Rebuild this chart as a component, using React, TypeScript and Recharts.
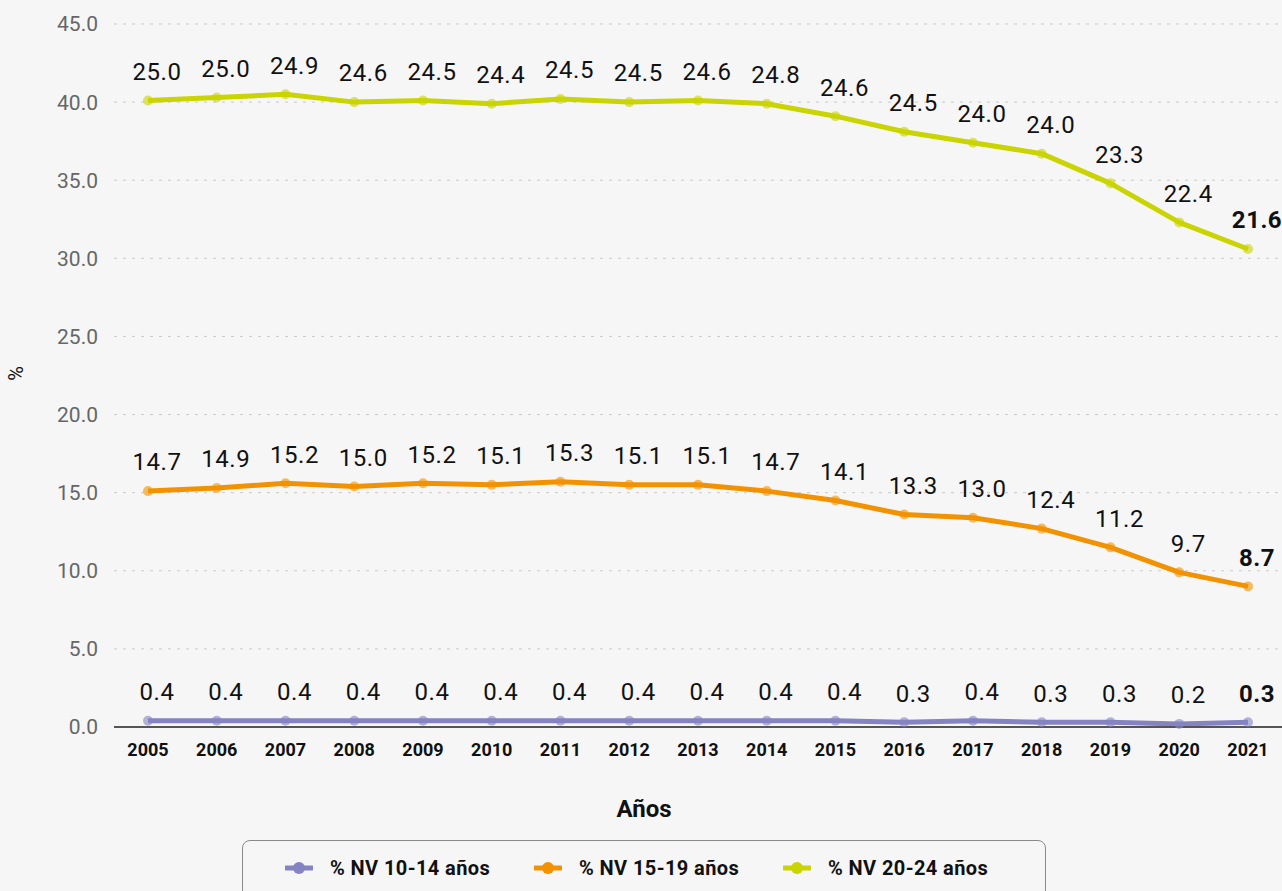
import React from "react";
import {
  AreaChart,
  Area,
  XAxis,
  YAxis,
  CartesianGrid,
  Legend,
  LabelList,
  Label,
} from "recharts";

const years = [
  "2005", "2006", "2007", "2008", "2009", "2010", "2011", "2012", "2013",
  "2014", "2015", "2016", "2017", "2018", "2019", "2020", "2021",
];
const nv10 = [0.4, 0.4, 0.4, 0.4, 0.4, 0.4, 0.4, 0.4, 0.4, 0.4, 0.4, 0.3, 0.4, 0.3, 0.3, 0.2, 0.3];
const nv15 = [14.7, 14.9, 15.2, 15.0, 15.2, 15.1, 15.3, 15.1, 15.1, 14.7, 14.1, 13.3, 13.0, 12.4, 11.2, 9.7, 8.7];
const nv20 = [25.0, 25.0, 24.9, 24.6, 24.5, 24.4, 24.5, 24.5, 24.6, 24.8, 24.6, 24.5, 24.0, 24.0, 23.3, 22.4, 21.6];
const yTicks = [0, 5, 10, 15, 20, 25, 30, 35, 40, 45];

const series = [
  { key: "nv10", name: "% NV 10-14 años", color: "#8683c2", values: nv10 },
  { key: "nv15", name: "% NV 15-19 años", color: "#f39200", values: nv15 },
  { key: "nv20", name: "% NV 20-24 años", color: "#c9d400", values: nv20 },
];

const data = years.map((year, i) => ({
  year,
  nv10: nv10[i],
  nv15: nv15[i],
  nv20: nv20[i],
}));

// labels show the raw value of each band, not the stacked height
function valueLabel(values: number[]) {
  return (props: any) => {
    const { x, y, index } = props;
    const last = index === values.length - 1;
    return (
      <text
        x={x + 9}
        y={y - 27}
        textAnchor="middle"
        dominantBaseline="middle"
        fontSize={24}
        letterSpacing={0.5}
        fontWeight={last ? 700 : 400}
        fill="#111"
      >
        {values[index].toFixed(1)}
      </text>
    );
  };
}

const renderLegend = (props: any) => {
  const payload = props.payload || [];
  return (
    <div
      style={{
        border: "1px solid #8a8a8a",
        borderRadius: 8,
        height: 58,
        boxSizing: "border-box",
        display: "flex",
        alignItems: "center",
        paddingLeft: 42,
        paddingBottom: 2,
      }}
    >
      {payload.map((entry: any) => {
        const s = series.find((d) => d.key === entry.dataKey);
        const color = s ? s.color : entry.color;
        return (
          <div
            key={entry.value}
            style={{ display: "flex", alignItems: "center", width: 249 }}
          >
            <svg width={28} height={14} style={{ marginRight: 17 }}>
              <line x1={1} y1={7} x2={27} y2={7} stroke={color} strokeWidth={5} strokeLinecap="round" />
              <circle cx={14} cy={7} r={6} fill={color} />
            </svg>
            <span style={{ fontSize: 20, fontWeight: 700, color: "#111", letterSpacing: 0.4 }}>
              {entry.value}
            </span>
          </div>
        );
      })}
    </div>
  );
};

export default function App() {
  return (
    <div
      style={{
        width: 1282,
        height: 891,
        overflow: "hidden",
        background: "#f6f6f6",
        fontFamily: "Roboto, sans-serif",
      }}
    >
      <style>{"body{margin:0;background:#f6f6f6}"}</style>
      <AreaChart
        width={1282}
        height={891}
        data={data}
        margin={{ top: 24, right: 0, left: 0, bottom: 64 }}
      >
        <CartesianGrid
          vertical={false}
          stroke="#c9c9c9"
          strokeDasharray="3 6"
        />
        <XAxis
          dataKey="year"
          height={100}
          padding={{ left: 34, right: 34 }}
          tick={{ fill: "#111", fontSize: 18, fontWeight: 700 }}
          tickLine={false}
          tickMargin={10}
          axisLine={{ stroke: "#555", strokeWidth: 2 }}
        >
          <Label
            content={(p: any) => {
              const vb = p.viewBox;
              return (
                <text
                  x={vb.x + vb.width / 2 - 54}
                  y={vb.y + vb.height - 10}
                  textAnchor="middle"
                  fontSize={24}
                  fontWeight={700}
                  fill="#111"
                >
                  Años
                </text>
              );
            }}
          />
        </XAxis>
        <YAxis
          width={114}
          domain={[0, 45]}
          ticks={yTicks}
          interval={0}
          tickFormatter={(v: number) => v.toFixed(1)}
          tick={{ fill: "#666", fontSize: 21 }}
          tickLine={false}
          tickMargin={10}
          axisLine={false}
        >
          <Label
            content={(p: any) => {
              const vb = p.viewBox;
              const cx = vb.x + 18;
              const cy = vb.y + vb.height / 2 - 2;
              return (
                <text
                  x={cx}
                  y={cy}
                  transform={`rotate(-90 ${cx} ${cy})`}
                  textAnchor="middle"
                  dominantBaseline="middle"
                  fontSize={20}
                  fill="#111"
                >
                  %
                </text>
              );
            }}
          />
        </YAxis>
        <Legend
          layout="vertical"
          verticalAlign="middle"
          align="center"
          content={renderLegend}
          wrapperStyle={{ left: 242, top: 840, width: 804 }}
        />
        {series.map((s) => (
          <Area
            key={s.key}
            type="linear"
            dataKey={s.key}
            name={s.name}
            stackId="nv"
            stroke={s.color}
            strokeWidth={5}
            strokeLinejoin="round"
            fill="none"
            dot={{ r: 5, fill: s.color, stroke: s.color, strokeWidth: 0 }}
            activeDot={false}
            isAnimationActive={false}
          >
            <LabelList dataKey={s.key} content={valueLabel(s.values)} />
          </Area>
        ))}
      </AreaChart>
    </div>
  );
}
